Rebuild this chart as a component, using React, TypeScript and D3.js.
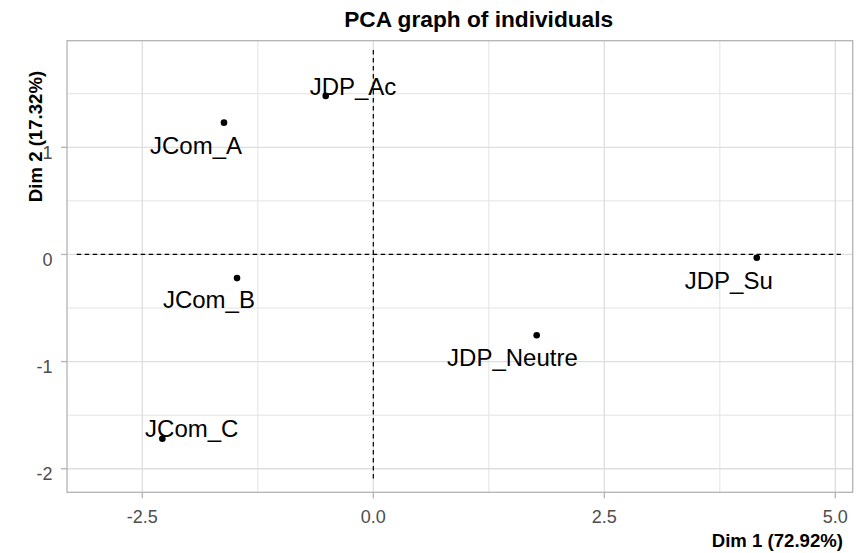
import * as d3 from 'd3'

const names = ['JCom_A', 'JDP_Ac', 'JCom_B', 'JCom_C', 'JDP_Su', 'JDP_Neutre']
const dim1 = [-1.616, -0.515, -1.475, -2.283, 4.15, 1.768]
const dim2 = [1.23, 1.48, -0.221, -1.72, -0.031, -0.754]
// where the repelled labels ended up (centre of text, data units)
const labelX = [-1.919, -0.22, -1.779, -1.965, 3.847, 1.506]
const labelY = [1.012, 1.566, -0.42, -1.623, -0.243, -0.966]

const xTicks = [-2.5, 0, 2.5, 5]
const xMinor = [-1.25, 1.25, 3.75]
const yTicks = [-2, -1, 0, 1]
const yMinor = [-1.5, -0.5, 0.5, 1.5]

const W = 856
const H = 553
const FONT = '"Liberation Sans", Arial, sans-serif'

export default function App() {
  const x = d3.scaleLinear().domain([-3.315, 5.188]).range([67, 852.7])
  const y = d3.scaleLinear().domain([-2.22, 1.995]).range([492.3, 40.7])
  const [x0, x1] = x.range()
  const [y0, y1] = y.range()

  // R prints a plain hyphen, not the unicode minus d3 uses
  const fmtX = (v: number) => d3.format('.1f')(v).replace('−', '-')
  const fmtY = (v: number) => d3.format('d')(v).replace('−', '-')

  return (
    <svg
      width={W}
      height={H}
      style={{ position: 'absolute', left: 0, top: 0, background: '#fff' }}
      fontFamily={FONT}
    >
      {/* grid */}
      {xMinor.map((v) => (
        <line key={'xm' + v} x1={x(v)} x2={x(v)} y1={y1} y2={y0} stroke="#e3e3e3" strokeWidth={1} />
      ))}
      {yMinor.map((v) => (
        <line key={'ym' + v} x1={x0} x2={x1} y1={y(v)} y2={y(v)} stroke="#e3e3e3" strokeWidth={1} />
      ))}
      {xTicks.map((v) => (
        <line key={'xg' + v} x1={x(v)} x2={x(v)} y1={y1} y2={y0} stroke="#dedede" strokeWidth={1.3} />
      ))}
      {yTicks.map((v) => (
        <line key={'yg' + v} x1={x0} x2={x1} y1={y(v)} y2={y(v)} stroke="#dedede" strokeWidth={1.3} />
      ))}

      {/* origin lines */}
      <line x1={x(-3.21)} x2={x(5.06)} y1={y(0)} y2={y(0)} stroke="#000" strokeWidth={1.2} strokeDasharray="4.5,3.5" />
      <line x1={x(0)} x2={x(0)} y1={y(1.908)} y2={y(-2.105)} stroke="#000" strokeWidth={1.2} strokeDasharray="4.5,3.5" />

      {/* panel border */}
      <rect x={x0} y={y1} width={x1 - x0} height={y0 - y1} fill="none" stroke="#b3b3b3" strokeWidth={1.3} />

      {/* axes ticks + labels */}
      {xTicks.map((v) => (
        <g key={'xt' + v}>
          <line x1={x(v)} x2={x(v)} y1={y0} y2={y0 + 6} stroke="#b3b3b3" strokeWidth={1.3} />
          <text x={x(v)} y={517} dy="0.35em" textAnchor="middle" fontSize={18} fill="#4d4d4d">
            {fmtX(v)}
          </text>
        </g>
      ))}
      {yTicks.map((v) => (
        <g key={'yt' + v}>
          <line x1={x0 - 6} x2={x0} y1={y(v)} y2={y(v)} stroke="#b3b3b3" strokeWidth={1.3} />
          <text x={52.5} y={y(v) + 5} dy="0.35em" textAnchor="end" fontSize={18} fill="#4d4d4d">
            {fmtY(v)}
          </text>
        </g>
      ))}

      {/* points */}
      {names.map((n, i) => (
        <circle key={'p' + n} cx={x(dim1[i])} cy={y(dim2[i])} r={3.3} fill="#000" />
      ))}
      {names.map((n, i) => (
        <text
          key={'l' + n}
          x={x(labelX[i])}
          y={y(labelY[i])}
          dy="0.35em"
          textAnchor="middle"
          fontSize={24}
          fill="#000"
        >
          {n}
        </text>
      ))}

      {/* titles */}
      <text x={478.7} y={19} dy="0.35em" textAnchor="middle" fontSize={22.7} fontWeight="bold">
        PCA graph of individuals
      </text>
      <text x={843} y={540} dy="0.35em" textAnchor="end" fontSize={18.6} fontWeight="bold">
        Dim 1 (72.92%)
      </text>
      <text
        transform={`translate(35,136.5) rotate(-90)`}
        dy="0.35em"
        textAnchor="middle"
        fontSize={18.6}
        fontWeight="bold"
      >
        Dim 2 (17.32%)
      </text>
    </svg>
  )
}
